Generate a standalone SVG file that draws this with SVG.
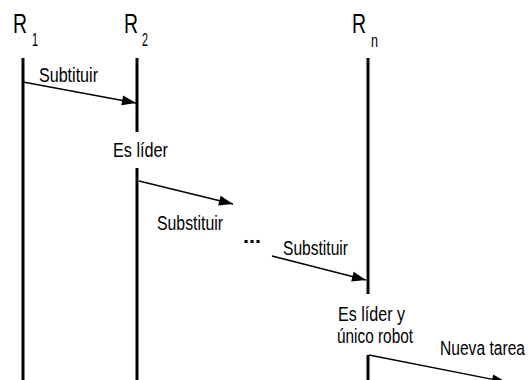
<svg xmlns="http://www.w3.org/2000/svg" width="531" height="380" viewBox="0 0 531 380">
<style>
text{font-family:"Liberation Sans Narrow","Liberation Sans",Arial,sans-serif;fill:#000}
.lbl{font-size:19.5px}
.r{font-size:27px}
.sub{font-size:18px}
.life{stroke:#000;stroke-width:3;fill:none}
.msg{stroke:#000;stroke-width:1.3;fill:none}
</style>
<defs>
<marker id="ah" markerUnits="userSpaceOnUse" markerWidth="15" markerHeight="11" refX="14" refY="5" orient="auto" overflow="visible">
<path d="M0,0 L14,5 L0,10 Z" fill="#000"/>
</marker>
</defs>
<rect width="531" height="380" fill="#fff"/>
<g id="R1">
<text class="r" x="13" y="33" textLength="14" lengthAdjust="spacingAndGlyphs">R</text>
<text class="sub" x="32" y="46" textLength="6" lengthAdjust="spacingAndGlyphs">1</text>
<line class="life" x1="23" y1="58" x2="23" y2="380"/>
</g>
<g id="R2">
<text class="r" x="124" y="33" textLength="14" lengthAdjust="spacingAndGlyphs">R</text>
<text class="sub" x="142" y="46" textLength="6" lengthAdjust="spacingAndGlyphs">2</text>
<line class="life" x1="137" y1="58" x2="137" y2="132"/>
<text class="lbl" x="113" y="157" textLength="55" lengthAdjust="spacingAndGlyphs">Es líder</text>
<line class="life" x1="137" y1="168" x2="137" y2="380"/>
</g>
<g id="Rn">
<text class="r" x="352" y="33" textLength="14" lengthAdjust="spacingAndGlyphs">R</text>
<text class="sub" x="371" y="47" textLength="7" lengthAdjust="spacingAndGlyphs">n</text>
<line class="life" x1="368" y1="58" x2="368" y2="294"/>
<text class="lbl" x="338" y="321" textLength="67" lengthAdjust="spacingAndGlyphs">Es líder y</text>
<text class="lbl" x="337" y="343" textLength="76" lengthAdjust="spacingAndGlyphs">único robot</text>
<line class="life" x1="368" y1="355" x2="368" y2="380"/>
</g>
<g id="dots">
<text x="243" y="243" font-size="20" font-weight="bold" textLength="18" lengthAdjust="spacingAndGlyphs">...</text>
</g>
<g id="connectors">
<line class="msg" x1="23" y1="82" x2="136" y2="103" marker-end="url(#ah)"/>
<text class="lbl" x="39" y="82" textLength="59" lengthAdjust="spacingAndGlyphs">Subtituir</text>
<line class="msg" x1="139" y1="181" x2="233" y2="204" marker-end="url(#ah)"/>
<text class="lbl" x="157" y="230" textLength="66" lengthAdjust="spacingAndGlyphs">Substituir</text>
<line class="msg" x1="272" y1="256" x2="366" y2="280" marker-end="url(#ah)"/>
<text class="lbl" x="283" y="255" textLength="65" lengthAdjust="spacingAndGlyphs">Substituir</text>
<line class="msg" x1="369" y1="355" x2="506" y2="382" marker-end="url(#ah)"/>
<text class="lbl" x="440" y="355" textLength="85" lengthAdjust="spacingAndGlyphs">Nueva tarea</text>
</g>
</svg>
